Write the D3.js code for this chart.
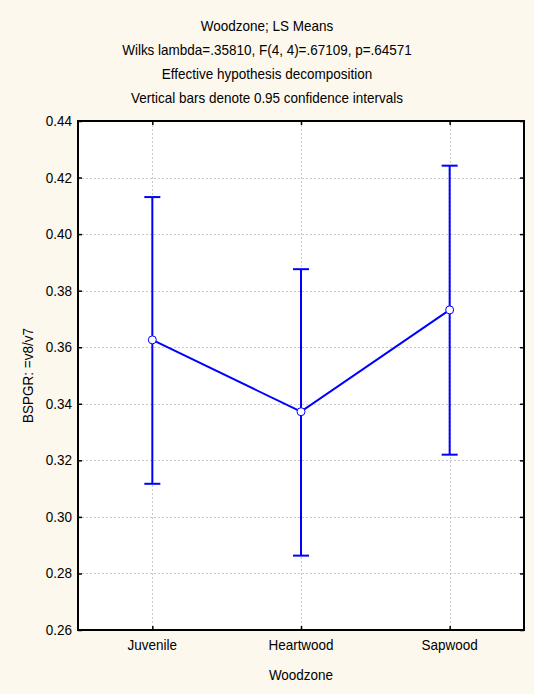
<!DOCTYPE html>
<html><head><meta charset="utf-8">
<script src="https://cdn.jsdelivr.net/npm/d3@7"></script>
<style>html,body{margin:0;padding:0;background:#fdf8ee;}</style>
</head><body>
<script>
const categories = ["Juvenile", "Heartwood", "Sapwood"];
const means = [0.3626, 0.3372, 0.3732];
const upper = [0.4131, 0.3876, 0.4242];
const lower = [0.3117, 0.2863, 0.3220];
const yTicks = [0.26, 0.28, 0.30, 0.32, 0.34, 0.36, 0.38, 0.40, 0.42, 0.44];
const titleLines = ["Woodzone; LS Means", "Wilks lambda=.35810, F(4, 4)=.67109, p=.64571", "Effective hypothesis decomposition", "Vertical bars denote 0.95 confidence intervals"];

const W = 534, H = 694;
const m = {left: 78, top: 121, right: 524, bottom: 630};
const font = "'Liberation Sans', Arial, sans-serif";
const FS = 15, SX = 0.9;
const svg = d3.select("body").append("svg").attr("width", W).attr("height", H)
  .style("font-family", font);
svg.append("rect").attr("width", W).attr("height", H).attr("fill", "#fdf8ee");

const x = d3.scalePoint().domain(categories).range([m.left, m.right]).padding(0.5);
const y = d3.scaleLinear().domain([0.26, 0.44]).range([m.bottom, m.top]);

function label(tx, ty, text, anchor, rot) {
  return svg.append("text")
    .attr("transform", `translate(${tx},${ty})` + (rot ? ` rotate(${rot})` : "") + ` scale(${SX},1)`)
    .attr("text-anchor", anchor).attr("font-size", FS).attr("fill", "#000").text(text);
}

svg.append("rect").attr("x", m.left).attr("y", m.top).attr("width", m.right - m.left)
  .attr("height", m.bottom - m.top).attr("fill", "#fff");

// grid
const grid = svg.append("g").attr("stroke", "#c8c8c8").attr("stroke-dasharray", "2,2").attr("stroke-width", 1);
yTicks.slice(1, -1).forEach(t => grid.append("line").attr("x1", m.left).attr("x2", m.right)
  .attr("y1", Math.round(y(t)) + 0.5).attr("y2", Math.round(y(t)) + 0.5));
categories.forEach(c => grid.append("line").attr("y1", m.top).attr("y2", m.bottom)
  .attr("x1", Math.round(x(c)) + 0.5).attr("x2", Math.round(x(c)) + 0.5));

// axes (ticks inside)
const gL = svg.append("g").attr("transform", `translate(${m.left},0)`)
  .call(d3.axisLeft(y).tickValues(yTicks).tickFormat("").tickSize(-4));
const gR = svg.append("g").attr("transform", `translate(${m.right},0)`)
  .call(d3.axisRight(y).tickValues(yTicks).tickFormat("").tickSize(-4));
const gB = svg.append("g").attr("transform", `translate(0,${m.bottom})`)
  .call(d3.axisBottom(x).tickFormat("").tickSize(-4));
const gT = svg.append("g").attr("transform", `translate(0,${m.top})`)
  .call(d3.axisTop(x).tickFormat("").tickSize(-4));
[gL, gR, gB, gT].forEach(g => {
  g.select(".domain").remove();
  g.selectAll(".tick line").attr("stroke", "#000").attr("stroke-width", 1.5);
});
const fmt = d3.format(".2f");
yTicks.forEach(t => label(72, y(t) + 5, fmt(t), "end"));
categories.forEach(c => label(x(c), 650, c, "middle"));

svg.append("rect").attr("x", m.left).attr("y", m.top).attr("width", m.right - m.left)
  .attr("height", m.bottom - m.top).attr("fill", "none").attr("stroke", "#000").attr("stroke-width", 2);

// error bars
const blue = "#0000ff";
const eb = svg.append("g").attr("stroke", blue).attr("stroke-width", 2);
categories.forEach((c, i) => {
  const cx = x(c);
  eb.append("line").attr("x1", cx).attr("x2", cx).attr("y1", y(upper[i])).attr("y2", y(lower[i]));
  eb.append("line").attr("x1", cx - 8).attr("x2", cx + 8).attr("y1", y(upper[i])).attr("y2", y(upper[i]));
  eb.append("line").attr("x1", cx - 8).attr("x2", cx + 8).attr("y1", y(lower[i])).attr("y2", y(lower[i]));
});
const line = d3.line().x((d, i) => x(categories[i])).y(d => y(d));
svg.append("path").attr("d", line(means)).attr("fill", "none").attr("stroke", blue).attr("stroke-width", 2);
svg.selectAll(".pt").data(means).join("circle").attr("class", "pt")
  .attr("cx", (d, i) => x(categories[i])).attr("cy", d => y(d)).attr("r", 4)
  .attr("fill", "#fff").attr("stroke", blue).attr("stroke-width", 1);

// titles
titleLines.forEach((t, i) => label(267, 30.7 + i * 24.1, t, "middle"));
label((m.left + m.right) / 2, 680, "Woodzone", "middle");
label(33, (m.top + m.bottom) / 2, "BSPGR: =v8/v7", "middle", -90);
</script>
</body></html>
